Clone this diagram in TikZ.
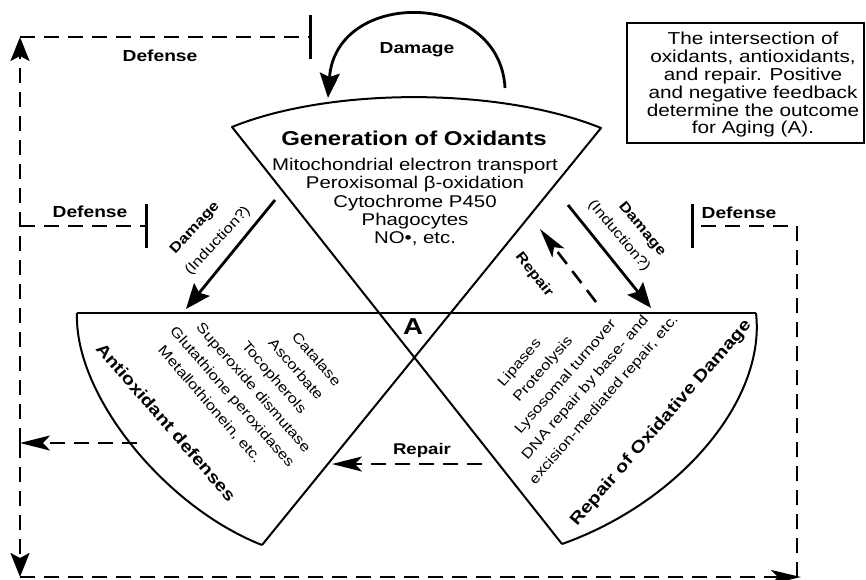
\documentclass[tikz,border=0pt]{standalone}
\usepackage{fontspec}
\setmainfont{Liberation Sans}[FakeStretch=1.2]
\usetikzlibrary{arrows.meta}
\begin{document}
\begin{tikzpicture}[x=1pt,y=-1pt,
  cone/.style={line width=2pt, line join=round},
  sarr/.style={line width=2.8pt, -{Stealth[length=25pt,width=20pt,inset=4pt]}},
  darr/.style={line width=2.6pt, dash pattern=on 15pt off 9pt, -{Stealth[length=30pt,width=15pt,inset=7pt]}},
  dline/.style={line width=2.6pt, dash pattern=on 15pt off 9pt},
  inhib/.style={dline, -{Bar[width=44pt,line width=3pt]}},
  lbl/.style={font=\bfseries\fontsize{16}{16}\selectfont, inner sep=0pt},
  sm/.style={font=\fontsize{14}{14}\selectfont, inner sep=0pt, text height=10pt, text depth=3pt},
  smb/.style={font=\bfseries\fontsize{14}{14}\selectfont, inner sep=0pt, text height=10pt, text depth=3pt},
  lst/.style={font=\fontsize{14}{22}\selectfont, inner sep=0pt, align=center},
  ttl/.style={font=\bfseries\fontsize{16.7}{16.7}\selectfont, inner sep=0pt, text height=12pt, text depth=3pt}]
\useasboundingbox (0,0) rectangle (866,579);
\fill[white] (0,0) rectangle (866,579);

% corner coordinates
\coordinate (gl) at (232,127);
\coordinate (gr) at (601,128);
\coordinate (ab) at (262,545);
\coordinate (rb) at (562,544);
\coordinate (al) at (77,313);
\coordinate (rr) at (756,313);

% cones
\draw[cone] (ab) -- (gr) .. controls (500,87) and (330,87) .. (gl) -- (rb);
\draw[cone] (al) -- (rr);
\draw[cone] (al) .. controls (74,395) and (165,507) .. (ab);
\draw[cone] (rr) .. controls (766,400) and (680,502) .. (rb);

% top cone text
\node[font=\bfseries\fontsize{20}{20}\selectfont, inner sep=0pt] (gen) at (414,138) {Generation of Oxidants};
\node[font=\fontsize{17}{18.2}\selectfont, align=center, inner sep=0pt] (genlist) at (415,202)
  {Mitochondrial electron transport\\ Peroxisomal β-oxidation\\ Cytochrome P450\\ Phagocytes\\ NO•, etc.};

\node[font=\bfseries\fontsize{23}{23}\selectfont, inner sep=0pt] (A) at (413,327) {A};

% antioxidant list
\node[lst, rotate=-49] (alist) at (263.4,382.7)
  {\makebox[0pt]{\hspace{34.2pt}Catalase}\\
   \makebox[0pt]{\hspace{22.4pt}Ascorbate}\\
   \makebox[0pt]{\hspace{6.6pt}Tocopherols}\\
   \makebox[0pt]{\hspace{-5.8pt}Superoxide dismutase}\\
   \makebox[0pt]{\hspace{-19.6pt}Glutathione peroxidases}\\
   \makebox[0pt]{\hspace{-37.6pt}Metallothionein, etc.}};
\node[ttl, rotate=-49] (anti) at (165,423) {Antioxidant defenses};

% repair list
\node[lst, rotate=49] (rlist) at (563.8,379.6)
  {\makebox[0pt]{\hspace{-32.8pt}Lipases}\\
   \makebox[0pt]{\hspace{-11.4pt}Proteolysis}\\
   \makebox[0pt]{\hspace{6.2pt}Lysosomal turnover}\\
   \makebox[0pt]{\hspace{15.8pt}DNA repair by base- and}\\
   \makebox[0pt]{\hspace{22pt}excision-mediated repair, etc.}};
\node[ttl, rotate=49] (rep) at (661,423) {Repair of Oxidative Damage};

% info box
\node[draw, line width=2.4pt, minimum width=237pt, minimum height=120pt, inner sep=0pt] (box) at (745.5,83) {};
\node[font=\fontsize{17.3}{17.8}\selectfont, align=center, inner sep=0pt] (boxtext) at (753,85)
  {The intersection of\\ oxidants, antioxidants,\\ and repair. Positive\\ and negative feedback\\ determine the outcome\\ for Aging (A).};

% damage loop
\coordinate (dl1) at (505,88);
\coordinate (dl2) at (328,98);
\draw[sarr] (dl1) .. controls (500,-10) and (336,-12) .. (dl2);
\node[lbl] (dmgtop) at (417,50) {Damage};

% left damage arrow
\coordinate (ld1) at (275,200);
\coordinate (ld2) at (186,309);
\draw[sarr] (ld1) -- (ld2);
\node[smb, rotate=47] (ldl1) at (195,228) {Damage};
\node[sm, rotate=47] (ldl2) at (218,241) {(Induction?)};

% right damage arrow
\coordinate (rd1) at (568,205);
\coordinate (rd2) at (651,308);
\draw[sarr] (rd1) -- (rd2);
\node[smb, rotate=-50] (rdl1) at (642,229) {Damage};
\node[sm, rotate=-50] (rdl2) at (619,236) {(Induction?)};

% repair arrows
\coordinate (rp1) at (596,302);
\coordinate (rp2) at (540,229);
\draw[darr] (rp1) -- (rp2);
\node[smb, rotate=-52] (rpl) at (534,275) {Repair};

\coordinate (rb1) at (482,464);
\coordinate (rb2) at (332,464);
\draw[darr] (rb1) -- (rb2);
\node[font=\bfseries\fontsize{15.5}{15.5}\selectfont, inner sep=0pt] (rbl) at (422,450) {Repair};

% feedback loop
\coordinate (ao) at (137,443);
\coordinate (lm) at (20,443);
\coordinate (lt) at (20,37);
\coordinate (lb) at (20,577);
\coordinate (br) at (801,577);
\coordinate (rc) at (797,577);
\coordinate (rt) at (797,226);
\coordinate (ldf) at (20,226);
\coordinate (tbar) at (312,37);
\coordinate (lbar) at (148,226);
\coordinate (rbar) at (691,226);

\draw[darr] (ao) -- (lm);
\draw[dline, -{Stealth[length=24pt,width=19pt,inset=5pt]}] (lm) -- (lt);
\draw[inhib] (lt) -- (tbar);
\draw[inhib] (ldf) -- (lbar);
\draw[dline, -{Stealth[length=24pt,width=19pt,inset=5pt]}] (lm) -- (lb);
\draw[dline, -{Stealth[length=30pt,width=14pt,inset=7pt]}] (lb) -- (br);
\draw[inhib] (rc) -- (rt) -- (rbar);

\node[lbl] (def1) at (160,56) {Defense};
\node[lbl] (def2) at (90,212) {Defense};
\node[lbl] (def3) at (739,213) {Defense};
\end{tikzpicture}
\end{document}
